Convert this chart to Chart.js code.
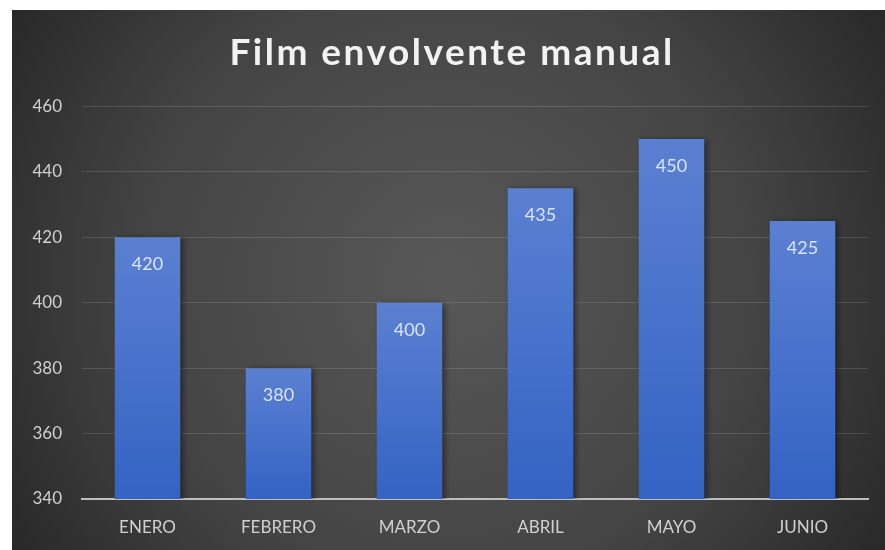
<!DOCTYPE html>
<html>
<head>
<meta charset="utf-8">
<script src="https://cdn.jsdelivr.net/npm/chart.js@4"></script>
<style>
  body { margin: 0; background: #ffffff; }
  #wrap { position: absolute; left: 12px; top: 10px; width: 873px; height: 540px; }
</style>
</head>
<body>
<div id="wrap"><canvas id="myChart"></canvas></div>
<script>
const tituloGrafico = 'Film envolvente manual';
const meses = ['ENERO', 'FEBRERO', 'MARZO', 'ABRIL', 'MAYO', 'JUNIO'];
const cantidades = [420, 380, 400, 435, 450, 425];
const ejeMin = 340;
const ejeMax = 460;
const ejePaso = 20;

const fuente = 'Lato, "Open Sans", sans-serif';

// fondo radial oscuro
const fondo = {
  id: 'fondo',
  beforeDraw(chart) {
    const { ctx, width, height } = chart;
    ctx.save();
    const g = ctx.createRadialGradient(width * 0.5, height * 0.5, 20, width * 0.5, height * 0.5, width * 0.62);
    g.addColorStop(0, '#575757');
    g.addColorStop(0.55, '#444444');
    g.addColorStop(1, '#252525');
    ctx.fillStyle = g;
    ctx.fillRect(0, 0, width, height);
    ctx.restore();
    // espaciado para el titulo
    ctx.letterSpacing = '2.5px';
  },
  beforeDatasetsDraw(chart) {
    const ctx = chart.ctx;
    ctx.letterSpacing = '0px';
    ctx.save();
    ctx.shadowColor = 'rgba(0,0,0,0.45)';
    ctx.shadowBlur = 6;
    ctx.shadowOffsetX = 3;
    ctx.shadowOffsetY = 1;
  },
  afterDatasetsDraw(chart) {
    const ctx = chart.ctx;
    ctx.restore();
    // etiquetas de valor dentro de la barra
    const meta = chart.getDatasetMeta(0);
    ctx.save();
    ctx.font = '18px ' + fuente;
    ctx.fillStyle = '#dce3f2';
    ctx.textAlign = 'center';
    ctx.textBaseline = 'middle';
    meta.data.forEach((bar, i) => {
      ctx.fillText(String(chart.data.datasets[0].data[i]), bar.x, bar.y + 27);
    });
    ctx.restore();
  }
};

const degradado = (context) => {
  const chart = context.chart;
  if (!chart.chartArea || context.dataIndex === undefined) return '#4472c4';
  const y = chart.scales.y;
  const top = y.getPixelForValue(context.raw);
  const bottom = y.getPixelForValue(ejeMin);
  if (!isFinite(top) || !isFinite(bottom) || top === bottom) return '#4472c4';
  const g = chart.ctx.createLinearGradient(0, top, 0, bottom);
  g.addColorStop(0, '#5b80d2');
  g.addColorStop(1, '#3463c4');
  return g;
};

const ctx = document.getElementById('myChart');

const myChart = new Chart(ctx, {
  type: 'bar',
  data: {
    labels: meses,
    datasets: [{
      data: cantidades,
      backgroundColor: degradado,
      borderWidth: 0,
      barPercentage: 1,
      categoryPercentage: 0.5
    }]
  },
  options: {
    responsive: true,
    maintainAspectRatio: false,
    animation: false,
    layout: { padding: { left: 7, right: 0, top: 0, bottom: 0 } },
    plugins: {
      legend: { display: false },
      tooltip: { enabled: false },
      title: {
        display: true,
        text: tituloGrafico,
        color: '#f2f2f2',
        font: { family: fuente, size: 37, weight: 'bold' },
        padding: { top: 21, bottom: 31 }
      }
    },
    scales: {
      y: {
        min: ejeMin,
        max: ejeMax,
        ticks: {
          stepSize: ejePaso,
          color: '#d0d0d0',
          font: { family: fuente, size: 17 },
          padding: 20,
          z: 1
        },
        grid: { color: 'rgba(255,255,255,0.13)', lineWidth: 1, drawTicks: false },
        border: { display: false },
        afterFit(scale) { scale.width = 63; }
      },
      // margen derecho vacio
      margen: {
        type: 'linear',
        position: 'right',
        ticks: { display: false },
        grid: { display: false, drawTicks: false },
        border: { display: false },
        afterFit(scale) { scale.width = 17; }
      },
      x: {
        ticks: {
          color: '#d0d0d0',
          font: { family: fuente, size: 17 },
          padding: 18,
          z: 1
        },
        grid: { display: false, drawTicks: false },
        border: { display: true, color: '#bfbfbf', width: 2 },
        afterFit(scale) { scale.height = 51; }
      }
    }
  },
  plugins: [fondo]
});
</script>
</body>
</html>
